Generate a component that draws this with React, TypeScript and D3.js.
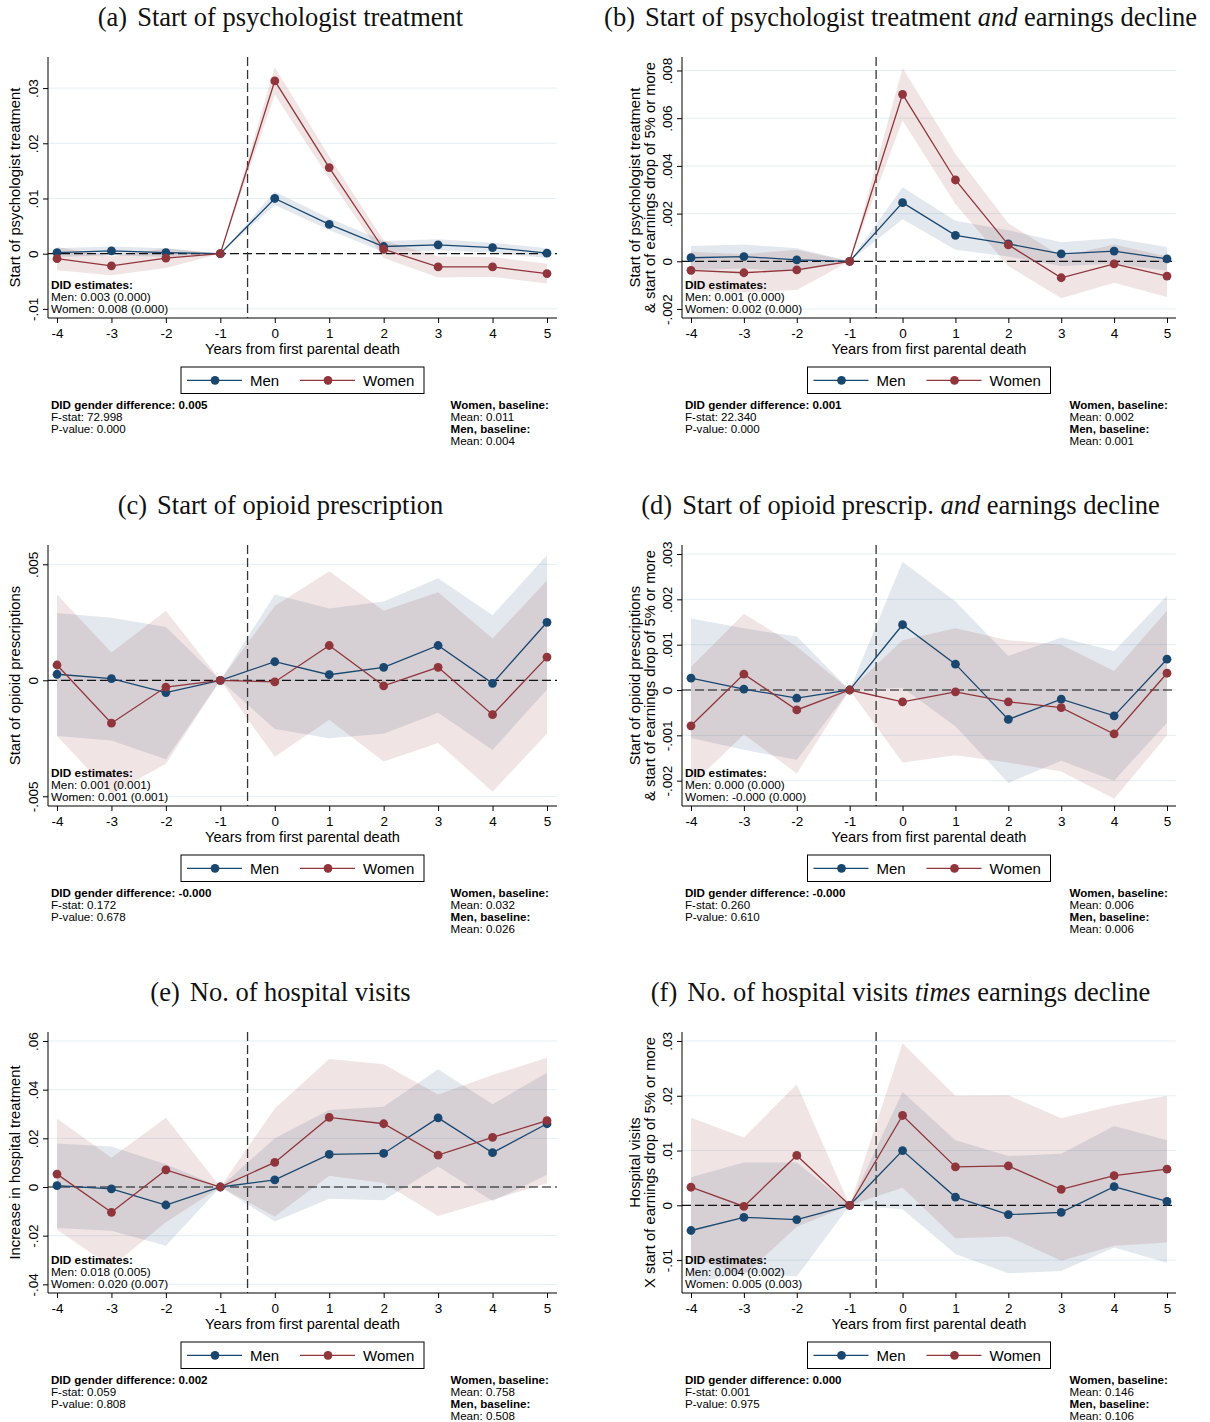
import * as d3 from "d3";
import { useRef, useEffect } from "react";

// --- Data ---
const years = [-4, -3, -2, -1, 0, 1, 2, 3, 4, 5];

// (a) psychologist treatment
const menA = [0.0002, 0.0005, 0.0002, 0, 0.01, 0.0053, 0.0013, 0.0016, 0.0011, 0.0001];
const menALo = [-0.0006, -0.0003, -0.0006, 0, 0.0088, 0.0043, 0.0003, 0.0006, 0.0002, -0.0008];
const menAHi = [0.001, 0.0013, 0.001, 0, 0.0112, 0.0064, 0.0023, 0.0026, 0.002, 0.001];
const womenA = [-0.0009, -0.0022, -0.0008, 0, 0.0313, 0.0156, 0.0008, -0.0024, -0.0024, -0.0036];
const womenALo = [-0.003, -0.0039, -0.0026, 0, 0.0288, 0.0136, -0.0008, -0.0043, -0.0042, -0.0054];
const womenAHi = [0.0012, -0.0005, 0.001, 0, 0.0338, 0.0176, 0.0024, -0.0005, -0.0006, -0.0018];

// (b) psychologist treatment and earnings decline
const menB = [0.00015, 0.0002, 0.00006, 0, 0.00246, 0.00109, 0.00073, 0.00031, 0.00043, 0.0001];
const menBLo = [-0.00036, -0.0003, -0.00043, 0, 0.00176, 0.00048, 0.0002, -0.0002, -0.0001, -0.0004];
const menBHi = [0.00064, 0.0007, 0.00055, 0, 0.0031, 0.0017, 0.0013, 0.0008, 0.00097, 0.0006];
const womenB = [-0.00038, -0.00048, -0.00036, 0, 0.007, 0.00341, 0.00069, -0.00069, -0.00011, -0.00062];
const womenBLo = [-0.0012, -0.0013, -0.0012, 0, 0.0059, 0.0024, -0.0002, -0.00155, -0.0009, -0.0015];
const womenBHi = [0.0004, 0.0003, 0.00048, 0, 0.0081, 0.0045, 0.0016, 0.0002, 0.0007, 0.0002];

// (c) opioid prescription
const menC = [0.00026, 0.00007, -0.00053, 0, 0.0008, 0.00024, 0.00056, 0.0015, -0.00013, 0.0025];
const menCLo = [-0.0024, -0.0026, -0.0034, 0, -0.0021, -0.0025, -0.0023, -0.0014, -0.003, -0.0004];
const menCHi = [0.0029, 0.0027, 0.0023, 0, 0.0037, 0.0031, 0.0034, 0.0044, 0.0028, 0.0054];
const womenC = [0.00066, -0.00185, -0.00029, 0, -0.00007, 0.0015, -0.00024, 0.00056, -0.00148, 0.001];
const womenCLo = [-0.0024, -0.0049, -0.0036, 0, -0.0033, -0.0017, -0.0035, -0.0027, -0.0048, -0.0023];
const womenCHi = [0.0037, 0.0012, 0.003, 0, 0.0032, 0.0047, 0.003, 0.0038, 0.0018, 0.0043];

// (d) opioid prescription and earnings decline
const menD = [0.00026, 0.00002, -0.00018, 0, 0.00144, 0.00057, -0.00065, -0.0002, -0.00057, 0.00068];
const menDLo = [-0.00106, -0.00132, -0.00154, 0, 0.00005, -0.0008, -0.00205, -0.00156, -0.002, -0.00072];
const menDHi = [0.00158, 0.00136, 0.00118, 0, 0.00283, 0.00195, 0.00075, 0.00116, 0.00086, 0.00208];
const womenD = [-0.00079, 0.00035, -0.00044, 0, -0.00026, -0.00004, -0.00026, -0.00039, -0.00097, 0.00037];
const womenDLo = [-0.0021, -0.00098, -0.00184, 0, -0.0016, -0.00144, -0.0016, -0.0018, -0.0024, -0.001];
const womenDHi = [0.00051, 0.00168, 0.00096, 0, 0.0011, 0.00136, 0.0011, 0.001, 0.00042, 0.00175];

// (e) hospital visits
const menE = [0.00055, -0.0008, -0.0074, 0, 0.0029, 0.0134, 0.0138, 0.0284, 0.0141, 0.026];
const menELo = [-0.0168, -0.018, -0.0241, 0, -0.0142, -0.0048, -0.0054, 0.0084, -0.0058, 0.005];
const menEHi = [0.0179, 0.0166, 0.0093, 0, 0.02, 0.0316, 0.033, 0.0484, 0.034, 0.047];
const womenE = [0.0053, -0.0104, 0.007, 0, 0.0101, 0.0286, 0.026, 0.0131, 0.0204, 0.0273];
const womenELo = [-0.0176, -0.0328, -0.0145, 0, -0.0121, 0.0046, 0.0016, -0.0119, -0.0052, 0.0015];
const womenEHi = [0.0282, 0.012, 0.0285, 0, 0.0323, 0.0526, 0.0504, 0.038, 0.046, 0.0531];

// (f) hospital visits times earnings decline
const menF = [-0.0046, -0.0022, -0.0026, 0, 0.01, 0.0015, -0.0017, -0.0013, 0.0034, 0.0007];
const menFLo = [-0.0143, -0.0122, -0.013, 0, -0.0007, -0.0089, -0.0124, -0.012, -0.0077, -0.0105];
const menFHi = [0.0051, 0.0078, 0.0078, 0, 0.0207, 0.0119, 0.009, 0.0094, 0.0145, 0.0119];
const womenF = [0.0033, -0.0002, 0.0091, 0, 0.0164, 0.007, 0.0072, 0.0029, 0.0054, 0.0066];
const womenFLo = [-0.0094, -0.0128, -0.0039, 0, 0.0032, -0.006, -0.0057, -0.0101, -0.0074, -0.0068];
const womenFHi = [0.016, 0.0124, 0.0221, 0, 0.0296, 0.02, 0.0201, 0.0159, 0.0182, 0.02];

// tick values / labels
const ticksA = [-0.01, 0, 0.01, 0.02, 0.03];
const ticksALab = ["-.01", "0", ".01", ".02", ".03"];
const ticksB = [-0.002, 0, 0.002, 0.004, 0.006, 0.008];
const ticksBLab = ["-.002", "0", ".002", ".004", ".006", ".008"];
const ticksC = [-0.005, 0, 0.005];
const ticksCLab = ["-.005", "0", ".005"];
const ticksD = [-0.002, -0.001, 0, 0.001, 0.002, 0.003];
const ticksDLab = ["-.002", "-.001", "0", ".001", ".002", ".003"];
const ticksE = [-0.04, -0.02, 0, 0.02, 0.04, 0.06];
const ticksELab = ["-.04", "-.02", "0", ".02", ".04", ".06"];
const ticksF = [-0.01, 0, 0.01, 0.02, 0.03];
const ticksFLab = ["-.01", "0", ".01", ".02", ".03"];

const panels = [
  {
    letter: "(a)", title: [["Start of psychologist treatment", false]],
    ylab: ["Start of psychologist treatment"],
    yDomain: [-0.01165, 0.03563], ticks: ticksA, tickLab: ticksALab,
    men: [menA, menALo, menAHi], women: [womenA, womenALo, womenAHi],
    did: ["Men: 0.003 (0.000)", "Women: 0.008 (0.000)"],
    diff: "0.005", fstat: "72.998", pval: "0.000", wMean: "0.011", mMean: "0.004",
  },
  {
    letter: "(b)", title: [["Start of psychologist treatment ", false], ["and", true], [" earnings decline", false]],
    ylab: ["Start of psychologist treatment", "& start of earnings drop of 5% or more"],
    yDomain: [-0.002377, 0.008566], ticks: ticksB, tickLab: ticksBLab,
    men: [menB, menBLo, menBHi], women: [womenB, womenBLo, womenBHi],
    did: ["Men: 0.001 (0.000)", "Women: 0.002 (0.000)"],
    diff: "0.001", fstat: "22.340", pval: "0.000", wMean: "0.002", mMean: "0.001",
  },
  {
    letter: "(c)", title: [["Start of opioid prescription", false]],
    ylab: ["Start of opioid prescriptions"],
    yDomain: [-0.005418, 0.005832], ticks: ticksC, tickLab: ticksCLab,
    men: [menC, menCLo, menCHi], women: [womenC, womenCLo, womenCHi],
    did: ["Men: 0.001 (0.001)", "Women: 0.001 (0.001)"],
    diff: "-0.000", fstat: "0.172", pval: "0.678", wMean: "0.032", mMean: "0.026",
  },
  {
    letter: "(d)", title: [["Start of opioid prescrip. ", false], ["and", true], [" earnings decline", false]],
    ylab: ["Start of opioid prescriptions", "& start of earnings drop of 5% or more"],
    yDomain: [-0.002559, 0.003199], ticks: ticksD, tickLab: ticksDLab,
    men: [menD, menDLo, menDHi], women: [womenD, womenDLo, womenDHi],
    did: ["Men: 0.000 (0.000)", "Women: -0.000 (0.000)"],
    diff: "-0.000", fstat: "0.260", pval: "0.610", wMean: "0.006", mMean: "0.006",
  },
  {
    letter: "(e)", title: [["No. of hospital visits", false]],
    ylab: ["Increase in hospital treatment"],
    yDomain: [-0.04356, 0.0637], ticks: ticksE, tickLab: ticksELab,
    men: [menE, menELo, menEHi], women: [womenE, womenELo, womenEHi],
    did: ["Men: 0.018 (0.005)", "Women: 0.020 (0.007)"],
    diff: "0.002", fstat: "0.059", pval: "0.808", wMean: "0.758", mMean: "0.508",
  },
  {
    letter: "(f)", title: [["No. of hospital visits ", false], ["times", true], [" earnings decline", false]],
    ylab: ["Hospital visits", "X start of earnings drop of 5% or more"],
    yDomain: [-0.01601, 0.03164], ticks: ticksF, tickLab: ticksFLab,
    men: [menF, menFLo, menFHi], women: [womenF, womenFLo, womenFHi],
    did: ["Men: 0.004 (0.002)", "Women: 0.005 (0.003)"],
    diff: "0.000", fstat: "0.001", pval: "0.975", wMean: "0.146", mMean: "0.106",
  },
];

// --- Layout ---
const W = 1210, H = 1422;
const COLS = [
  { x0: 48, x1: 557, t0: 57, t1: 547, titleX: 280.5 },
  { x0: 682, x1: 1176, t0: 691, t1: 1167, titleX: 900.5 },
];
const ROWS = [{ y0: 57, y1: 318 }, { y0: 545, y1: 806 }, { y0: 1032, y1: 1293 }];
const MEN = "#1a476f";
const WOMEN = "#90353b";
const SANS = "'Liberation Sans', Arial, sans-serif";
const SERIF = "'Liberation Serif', 'Times New Roman', serif";

function drawPanel(svg, p, col, row) {
  const { x0, x1, t0, t1, titleX } = COLS[col];
  const { y0, y1 } = ROWS[row];
  const g = svg.append("g").style("font-family", SANS);

  const x = d3.scaleLinear().domain([-4, 5]).range([t0, t1]);
  const y = d3.scaleLinear().domain(p.yDomain).range([y1, y0]);

  // title
  const title = g.append("text")
    .attr("x", titleX).attr("y", y0 - 31)
    .attr("text-anchor", "middle")
    .style("font-family", SERIF).style("font-size", "26.5px").attr("fill", "#111");
  title.append("tspan").text(p.letter);
  p.title.forEach(([s, it], i) => {
    const t = title.append("tspan").text(s).style("font-style", it ? "italic" : "normal");
    if (i === 0) t.attr("dx", 10);
  });

  // grid
  g.selectAll(".grid").data(p.ticks).join("line")
    .attr("x1", x0).attr("x2", x1)
    .attr("y1", d => y(d)).attr("y2", d => y(d))
    .attr("stroke", "#e6eff2").attr("stroke-width", 1);

  // CI bands
  const area = d3.area()
    .x((d, i) => x(years[i]))
    .y0(d => y(d[0]))
    .y1(d => y(d[1]));
  const bandM = p.men[1].map((lo, i) => [lo, p.men[2][i]]);
  const bandW = p.women[1].map((lo, i) => [lo, p.women[2][i]]);
  g.append("path").attr("d", area(bandM)).attr("fill", MEN).attr("fill-opacity", 0.125);
  g.append("path").attr("d", area(bandW)).attr("fill", WOMEN).attr("fill-opacity", 0.135);

  // reference lines
  g.append("line")
    .attr("x1", x0).attr("x2", x1).attr("y1", y(0)).attr("y2", y(0))
    .attr("stroke", "#111").attr("stroke-width", 1.2).attr("stroke-dasharray", "9,4");
  g.append("line")
    .attr("x1", x(-0.5)).attr("x2", x(-0.5)).attr("y1", y0).attr("y2", y1)
    .attr("stroke", "#333").attr("stroke-width", 1.3).attr("stroke-dasharray", "9,4");

  // series
  const line = d3.line().x((d, i) => x(years[i])).y(d => y(d));
  [[p.men[0], MEN], [p.women[0], WOMEN]].forEach(([vals, c]) => {
    g.append("path").attr("d", line(vals)).attr("fill", "none")
      .attr("stroke", c).attr("stroke-width", 1.3);
    g.selectAll(null).data(vals).join("circle")
      .attr("cx", (d, i) => x(years[i])).attr("cy", d => y(d))
      .attr("r", 4.4).attr("fill", c);
  });

  // axes lines
  g.append("line").attr("x1", x0).attr("x2", x0).attr("y1", y0).attr("y2", y1)
    .attr("stroke", "#000").attr("stroke-width", 1);
  g.append("line").attr("x1", x0).attr("x2", x1).attr("y1", y1).attr("y2", y1)
    .attr("stroke", "#000").attr("stroke-width", 1);

  // y axis ticks (rotated labels)
  const ya = g.append("g").attr("transform", `translate(${x0},0)`)
    .call(d3.axisLeft(y).tickValues(p.ticks).tickFormat((d, i) => p.tickLab[i]).tickSize(5).tickSizeOuter(0));
  ya.select(".domain").remove();
  ya.selectAll("line").attr("stroke", "#000");
  ya.selectAll("text")
    .attr("x", null).attr("dy", null).attr("y", null)
    .attr("text-anchor", "middle")
    .attr("transform", "translate(-10.5,0) rotate(-90)")
    .style("font-size", "13.5px").style("font-family", SANS).attr("fill", "#000");

  // x axis ticks
  const xa = g.append("g").attr("transform", `translate(0,${y1})`)
    .call(d3.axisBottom(x).tickValues(years).tickFormat(d => String(d)).tickSize(5).tickSizeOuter(0));
  xa.select(".domain").remove();
  xa.selectAll("line").attr("stroke", "#000");
  xa.selectAll("text").attr("y", 20).attr("dy", null)
    .style("font-size", "13.5px").style("font-family", SANS).attr("fill", "#000");

  // y axis label
  const cy = (y0 + y1) / 2;
  const labX = p.ylab.length === 1 ? [x0 - 28.5] : [x0 - 42, x0 - 27];
  p.ylab.forEach((s, i) => {
    g.append("text").attr("transform", `translate(${labX[i]},${cy}) rotate(-90)`)
      .attr("text-anchor", "middle").style("font-size", "14.8px").attr("fill", "#000").text(s);
  });

  // x axis title
  g.append("text").attr("x", (x0 + x1) / 2).attr("y", y1 + 35.5)
    .attr("text-anchor", "middle").style("font-size", "14.6px").attr("fill", "#000")
    .text("Years from first parental death");

  // DID estimates text inside plot
  const did = [["DID estimates:", true], [p.did[0], false], [p.did[1], false]];
  did.forEach(([s, b], i) => {
    g.append("text").attr("x", x0 + 3).attr("y", y1 - 29 + i * 12)
      .style("font-size", "11.8px").style("font-weight", b ? "bold" : "normal")
      .attr("fill", "#000").text(s);
  });

  // legend
  const lc = (x0 + x1) / 2;
  const lx = lc - 121.5;
  const ly = y1 + 49;
  g.append("rect").attr("x", lx).attr("y", ly).attr("width", 243).attr("height", 26.5)
    .attr("fill", "#fff").attr("stroke", "#000").attr("stroke-width", 1);
  [["Men", MEN, 6], ["Women", WOMEN, 119]].forEach(([s, c, off]) => {
    g.append("line").attr("x1", lx + off).attr("x2", lx + off + 55)
      .attr("y1", ly + 13.3).attr("y2", ly + 13.3).attr("stroke", c).attr("stroke-width", 1.3);
    g.append("circle").attr("cx", lx + off + 28).attr("cy", ly + 13.3).attr("r", 4.4).attr("fill", c);
    g.append("text").attr("x", lx + off + 63).attr("y", ly + 18.5)
      .style("font-size", "15px").attr("fill", "#000").text(s);
  });

  // stats text
  const left = [[`DID gender difference: ${p.diff}`, true], [`F-stat: ${p.fstat}`, false], [`P-value: ${p.pval}`, false]];
  left.forEach(([s, b], i) => {
    g.append("text").attr("x", x0 + 3).attr("y", y1 + 91 + i * 12)
      .style("font-size", "11.6px").style("font-weight", b ? "bold" : "normal").attr("fill", "#000").text(s);
  });
  const right = [["Women, baseline:", true], [`Mean: ${p.wMean}`, false], ["Men, baseline:", true], [`Mean: ${p.mMean}`, false]];
  right.forEach(([s, b], i) => {
    g.append("text").attr("x", x1 - 106.5).attr("y", y1 + 91 + i * 12)
      .style("font-size", "11.6px").style("font-weight", b ? "bold" : "normal").attr("fill", "#000").text(s);
  });
}

export default function App() {
  const ref = useRef(null);

  useEffect(() => {
    const svg = d3.select(ref.current);
    svg.selectAll("*").remove();
    svg.append("rect").attr("width", W).attr("height", H).attr("fill", "#fff");
    panels.forEach((p, i) => drawPanel(svg, p, i % 2, Math.floor(i / 2)));
  }, []);

  return (
    <div style={{ position: "absolute", left: 0, top: 0 }}>
      <svg ref={ref} width={W} height={H} viewBox={`0 0 ${W} ${H}`} style={{ display: "block" }}></svg>
    </div>
  );
}
